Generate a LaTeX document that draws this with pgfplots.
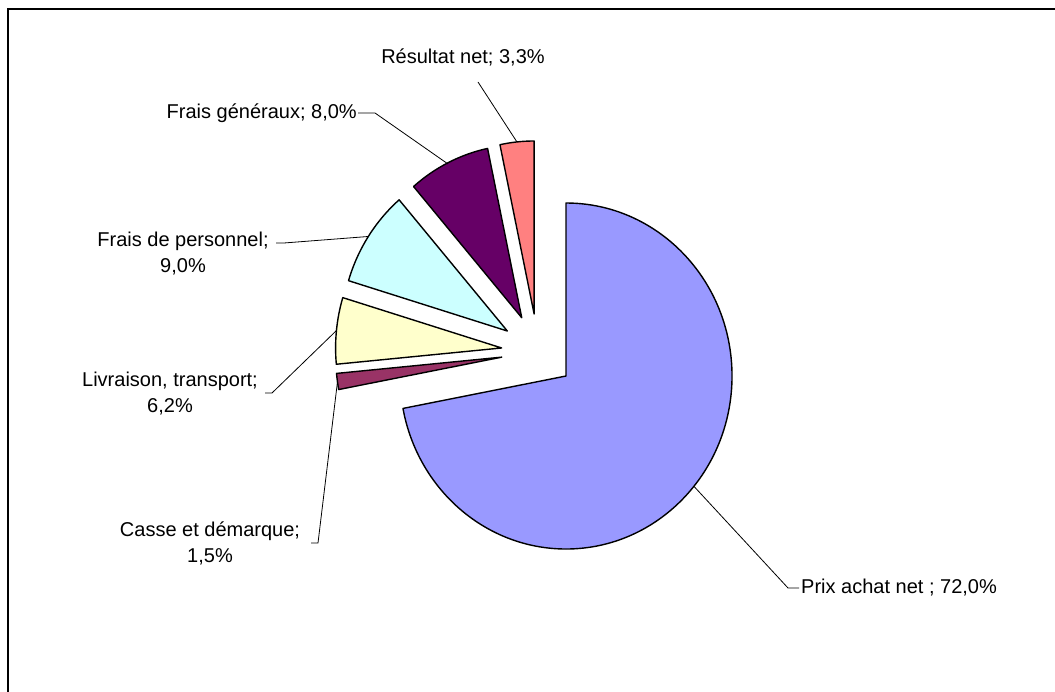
\documentclass[border=0pt]{standalone}
\usepackage{pgfplots}
\usepackage{pgfplotstable}
\pgfplotsset{compat=1.18}
\usepackage{fontspec}
\setmainfont{Liberation Sans}
\definecolor{cprix}{HTML}{9999FF}
\definecolor{ccasse}{HTML}{993366}
\definecolor{cliv}{HTML}{FFFFCC}
\definecolor{cpers}{HTML}{CCFFFF}
\definecolor{cgen}{HTML}{660066}
\definecolor{cres}{HTML}{FF8080}

\pgfplotstableread{
share col
72.0 cprix
1.5 ccasse
6.2 cliv
9.0 cpers
8.0 cgen
3.3 cres
}\piedata

\begin{document}
\begin{tikzpicture}
\useasboundingbox (0,0) rectangle (1055pt,692pt);
\begin{axis}[width=1055pt,height=692pt,scale only axis,
  xmin=0,xmax=1055,ymin=0,ymax=692,hide axis,clip=false]
\gdef\curang{90}
\pgfplotsforeachungrouped \i in {0,...,5}{%
  \pgfplotstablegetelem{\i}{share}\of\piedata
  \let\v\pgfplotsretval
  \pgfplotstablegetelem{\i}{col}\of\piedata
  \let\c\pgfplotsretval
  \pgfmathsetmacro\s{\curang}%
  \pgfmathsetmacro\e{\curang-3.6*\v}%
  \pgfmathsetmacro\m{(\s+\e)/2}%
  \pgfmathsetmacro\ax{537.9+36.5*cos(\m)}%
  \pgfmathsetmacro\ay{340.2+38*sin(\m)}%
  \pgfmathsetmacro\bx{\ax+166*cos(\s)}%
  \pgfmathsetmacro\by{\ay+173*sin(\s)}%
  \edef\tmp{\noexpand\filldraw[fill=\c,draw=black,line width=1.4pt,line join=round] (axis cs:\ax,\ay) -- (axis cs:\bx,\by) arc[start angle=\s,end angle=\e,x radius=166pt,y radius=173pt] -- cycle;}%
  \tmp
  \xdef\curang{\e}%
}
% frame
\draw[line width=2pt] (axis cs:7.5,0) -- (axis cs:7.5,682.7) -- (axis cs:1055,682.7);
% leader lines
\draw[line width=0.8pt] (axis cs:478,610) -- (axis cs:516.9,550.1);
\draw[line width=0.8pt] (axis cs:358,579) -- (axis cs:375,579) -- (axis cs:448,528);
\draw[line width=0.8pt] (axis cs:276,449) -- (axis cs:284,449) -- (axis cs:368.3,455.5);
\draw[line width=0.8pt] (axis cs:265,299) -- (axis cs:272,299) -- (axis cs:336.4,361.4);
\draw[line width=0.8pt] (axis cs:311,149) -- (axis cs:318,149) -- (axis cs:337.5,310.4);
\draw[line width=0.8pt] (axis cs:693.9,205.7) -- (axis cs:788,104) -- (axis cs:799,104);
% labels
\tikzset{lab/.style={font=\fontsize{20}{26}\selectfont,inner sep=0pt,align=center}}
\node[lab] at (axis cs:463,635) {Résultat net; 3,3\%};
\node[lab,anchor=east] at (axis cs:357,579) {Frais généraux; 8,0\%};
\node[lab] at (axis cs:183,438) {Frais de personnel;\\9,0\%};
\node[lab] at (axis cs:170,298) {Livraison, transport;\\6,2\%};
\node[lab] at (axis cs:210,149) {Casse et démarque;\\1,5\%};
\node[lab,anchor=west] at (axis cs:801,104) {Prix achat net ; 72,0\%};
\end{axis}
\end{tikzpicture}
\end{document}
